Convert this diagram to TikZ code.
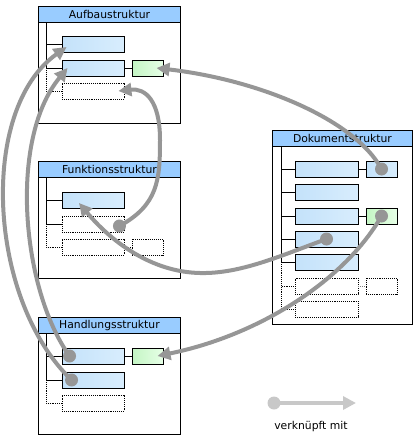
\documentclass[tikz,border=0pt]{standalone}
\usepackage{fontspec}
\setmainfont{DejaVu Sans}
\usetikzlibrary{arrows.meta}

\definecolor{headblue}{RGB}{153,204,255}
\definecolor{itemL}{RGB}{196,226,250}
\definecolor{itemR}{RGB}{216,237,253}
\definecolor{greenL}{RGB}{196,245,196}
\definecolor{greenR}{RGB}{230,255,230}
\definecolor{linkgray}{RGB}{150,150,150}
\definecolor{legendgray}{RGB}{200,200,200}

\tikzset{
  frame/.style={draw, line width=0.9pt, minimum width=142pt, minimum height=117pt, inner sep=0pt, anchor=north west},
  head/.style={draw, line width=0.9pt, fill=headblue, minimum width=142pt, minimum height=16pt, inner sep=0pt, anchor=north west, font=\fontsize{10.8}{12}\selectfont},
  item/.style={draw, line width=0.9pt, minimum width=62pt, minimum height=16pt, inner sep=0pt, left color=itemL, right color=itemR},
  open/.style={draw, line width=0.9pt, densely dotted, fill=white, minimum width=62pt, minimum height=16pt, inner sep=0pt},
  side/.style={item, minimum width=31pt},
  sidegreen/.style={side, left color=greenL, right color=greenR},
  sideopen/.style={open, minimum width=31pt},
  tree/.style={line width=0.9pt},
  dot/.style={circle, fill=linkgray, minimum size=13pt, inner sep=0pt},
  link/.style={line width=4pt, draw=linkgray, -{Triangle[length=13pt, width=13pt]}}
}

\begin{document}
\begin{tikzpicture}[x=1pt, y=-1pt]
    \useasboundingbox (0,0) rectangle (416,439);

    % Aufbaustruktur
    \node[frame] (auf) at (38,6) {};
    \node[head] (aufH) at (38,6) {Aufbaustruktur};
    \node[item] (aufR1) at (93,44) {};
    \node[item] (aufR2) at (93,68) {};
    \node[open] (aufR3) at (93,91) {};
    \node[sidegreen] (aufG) at (147.5,68) {};
    \coordinate (aufT) at (46,22);
    \draw[tree] (aufT) |- (aufR1.west);
    \draw[tree] (aufT) |- (aufR2.west);
    \draw[tree, densely dotted] (aufR2.west -| aufT) |- (aufR3.west);
    \draw[tree] (aufR2) -- (aufG);

    % Funktionsstruktur
    \node[frame] (fun) at (38,161) {};
    \node[head] (funH) at (38,161) {Funktionsstruktur};
    \node[item] (funR1) at (93,200) {};
    \node[open] (funR2) at (93,224) {};
    \node[open] (funR3) at (93,247) {};
    \node[sideopen] (funS3) at (147.5,247) {};
    \coordinate (funT) at (46,177);
    \draw[tree] (funT) |- (funR1.west);
    \draw[tree] (funT) |- (funR2.west);
    \draw[tree, densely dotted] (funR2.west -| funT) |- (funR3.west);
    \draw[tree, densely dotted] (funR3) -- (funS3);

    % Handlungsstruktur
    \node[frame] (han) at (38,317) {};
    \node[head] (hanH) at (38,317) {Handlungsstruktur};
    \node[item] (hanR1) at (93,356) {};
    \node[item] (hanR2) at (93,380) {};
    \node[open] (hanR3) at (93,403) {};
    \node[sidegreen] (hanG) at (147.5,356) {};
    \coordinate (hanT) at (46,333);
    \draw[tree] (hanT) |- (hanR1.west);
    \draw[tree] (hanT) |- (hanR2.west);
    \draw[tree, densely dotted] (hanR2.west -| hanT) |- (hanR3.west);
    \draw[tree] (hanR1) -- (hanG);

    % Dokumentstruktur
    \node[frame, minimum width=140pt, minimum height=194pt] (dok) at (272,130) {};
    \node[head, minimum width=140pt] (dokH) at (272,130) {Dokumentstruktur};
    \node[item, minimum width=63pt] (dokR1) at (326.5,169) {};
    \node[item, minimum width=63pt] (dokR2) at (326.5,192) {};
    \node[item, minimum width=63pt] (dokR3) at (326.5,216) {};
    \node[item, minimum width=63pt] (dokR4) at (326.5,239) {};
    \node[item, minimum width=63pt] (dokR5) at (326.5,262) {};
    \node[open, minimum width=63pt] (dokR6) at (326.5,286) {};
    \node[open, minimum width=63pt] (dokR7) at (326.5,309) {};
    \node[side] (dokS1) at (381.5,169) {};
    \node[sidegreen] (dokS3) at (381.5,216) {};
    \node[sideopen] (dokS6) at (381.5,286) {};
    \coordinate (dokT) at (281,146);
    \foreach \r in {1,...,5}
      \draw[tree] (dokT) |- (dokR\r.west);
    \draw[tree, densely dotted] (dokR5.west -| dokT) |- (dokR6.west);
    \draw[tree, densely dotted] (dokR5.west -| dokT) |- (dokR7.west);
    \draw[tree] (dokR1) -- (dokS1);
    \draw[tree] (dokR3) -- (dokS3);
    \draw[tree, densely dotted, gray] (dokR6) -- (dokS6);

    % Verknuepfungen
    \draw[link] (dokS1.center) node[dot] {}
      .. controls (355,120) and (260,80) .. ([xshift=9pt]aufG.center);
    \draw[link] (funR2.east) ++(-5,2) node[dot] {}
      .. controls (158,205) and (160,180) .. (160,140)
      .. controls (160,100) and (145,88) .. ([xshift=-6pt]aufR3.east);
    \draw[link] (dokR4.center) node[dot] {}
      .. controls (280,256) and (240,274) .. (200,273)
      .. controls (150,272) and (110,240) .. ([xshift=-14pt, yshift=-3pt]funR1.center);
    \draw[link] (dokS3.center) node[dot] {}
      .. controls (345,280) and (260,335) .. ([xshift=10pt]hanG.center);
    \draw[link] ([xshift=8pt]hanR1.west) node[dot] {}
      .. controls (22,290) and (8,140) .. ([xshift=6pt]aufR2.west);
    \draw[link] ([xshift=10pt]hanR2.west) node[dot] {}
      .. controls (-12,300) and (-22,110) .. ([xshift=5pt, yshift=-3pt]aufR1.west);

    % Legende
    \node[dot, fill=legendgray] (legA) at (274,403) {};
    \coordinate (legB) at (356,403);
    \draw[link, draw=legendgray] (legA.center) -- (legB);
    \node[font=\fontsize{10.8}{12}\selectfont] (legT) at (311,427) {verknüpft mit};
\end{tikzpicture}
\end{document}
